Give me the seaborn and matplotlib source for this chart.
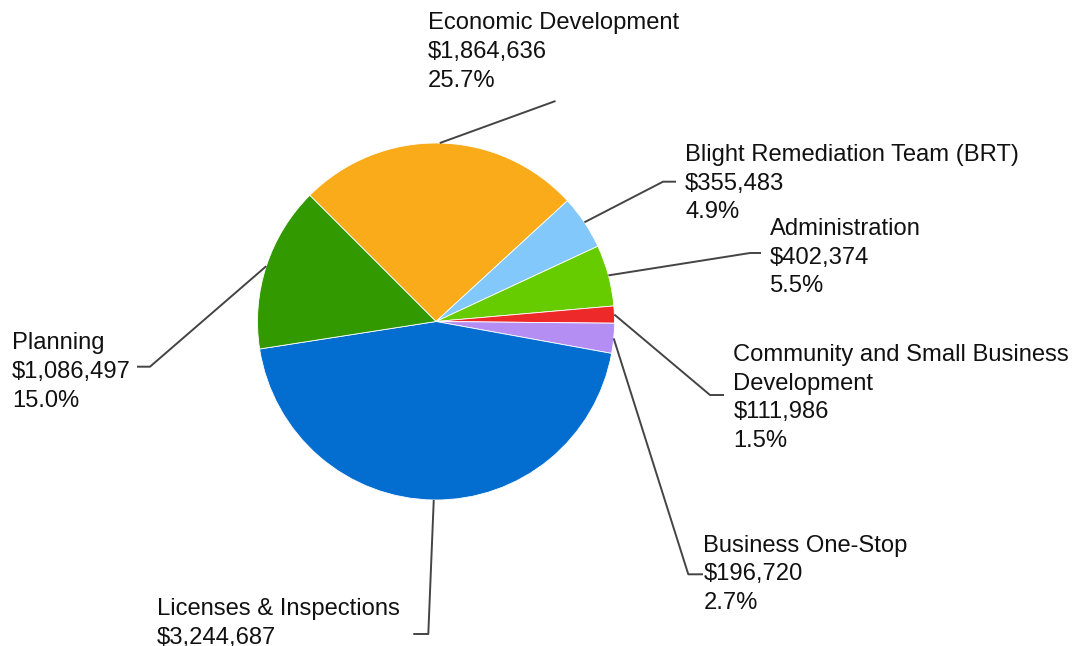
import matplotlib
matplotlib.use("Agg")
import matplotlib.pyplot as plt
import numpy as np
import seaborn as sns

# Department budgets
departments = [
    "Economic Development",
    "Blight Remediation Team (BRT)",
    "Administration",
    "Community and Small Business\nDevelopment",
    "Business One-Stop",
    "Licenses & Inspections",
    "Planning",
]
budgets = [1864636, 355483, 402374, 111986, 196720, 3244687, 1086497]
slice_colors = ["#F9AB1A", "#82C8FA", "#66CC00", "#EE2929", "#B48EF3", "#036ED0", "#339900"]

sns.set_theme(style="white")
plt.rcParams["font.family"] = ["Liberation Sans", "DejaVu Sans"]

W, H = 1080, 646
fig = plt.figure(figsize=(W / 100, H / 100), dpi=100)
ax = fig.add_axes([0, 0, 1, 1])

# pie geometry in pixel units (y measured from the top of the canvas)
cx, cy, R = 436, 321.5, 178.5
wedges, _ = ax.pie(
    budgets,
    colors=slice_colors,
    startangle=135,
    counterclock=False,
    center=(cx, H - cy),
    radius=R,
    wedgeprops=dict(edgecolor="white", linewidth=0.6),
)
ax.set_xlim(0, W)
ax.set_ylim(0, H)
ax.set_aspect("equal")
ax.axis("off")

# label placement: text left x, first baseline, elbow point, end of horizontal tick
label_layout = [
    (428, 29.3, (555.5, 101), None),
    (685, 161, (663, 181.7), 676),
    (770, 235, (750, 253), 761),
    (733.3, 361, (710, 395), 724),
    (703.3, 551.7, (688.3, 574.3), 703),
    (156.7, 615, (428.3, 634), 413.3),
    (12, 349.3, (150, 366.7), 137),
]
line_gap = 28.7
font_px = 23.8
total = sum(budgets)

for wedge, name, value, (tx, ty, (ex, ey), hx) in zip(wedges, departments, budgets, label_layout):
    mid = np.deg2rad((wedge.theta1 + wedge.theta2) / 2)
    ax_x = cx + R * np.cos(mid)
    ax_y = (H - cy) + R * np.sin(mid)
    xs = [ax_x, ex]
    ys = [ax_y, H - ey]
    if hx is not None:
        xs.append(hx)
        ys.append(H - ey)
    ax.plot(xs, ys, color="#444444", lw=1.4, solid_capstyle="butt", clip_on=False)

    lines = name.split("\n") + [f"${value:,}", f"{100 * value / total:.1f}%"]
    for i, line in enumerate(lines):
        ax.text(tx, H - (ty + i * line_gap), line, fontsize=font_px * 0.72,
                color="#111111", ha="left", va="baseline")

fig.savefig("out.png", dpi=100, facecolor="white")
